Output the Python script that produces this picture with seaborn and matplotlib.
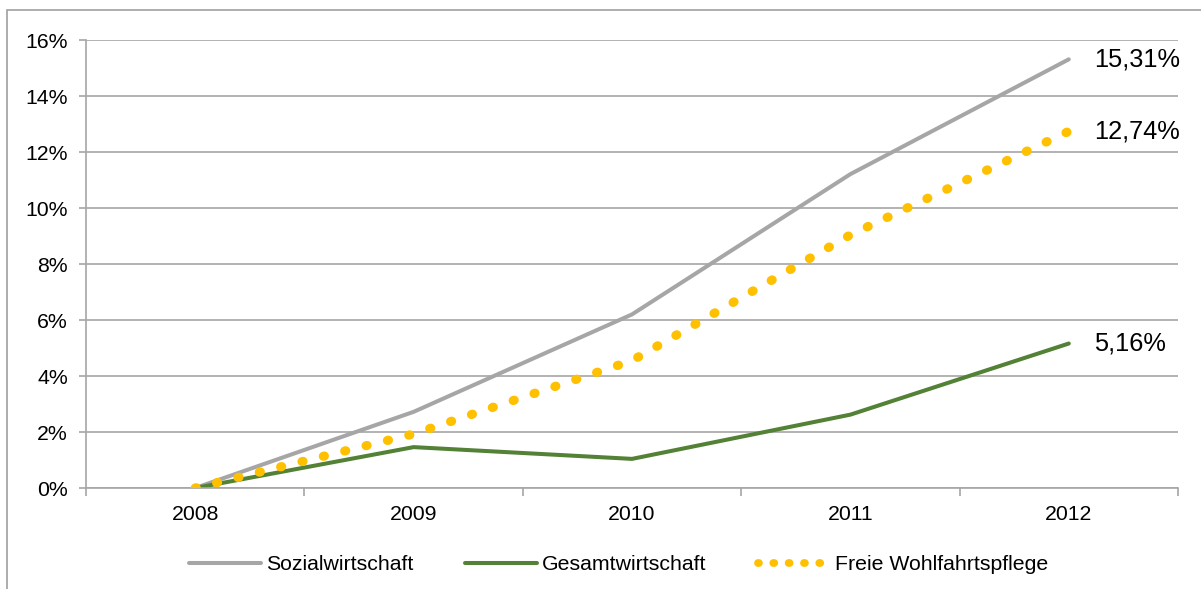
import matplotlib
matplotlib.use("Agg")
import matplotlib.pyplot as plt
import seaborn as sns
import pandas as pd
from matplotlib.lines import Line2D
from matplotlib.patches import Rectangle
from matplotlib.ticker import FuncFormatter, FixedLocator

years = ["2008", "2009", "2010", "2011", "2012"]
sozial = [0.0, 2.72, 6.20, 11.21, 15.31]
gesamt = [0.0, 1.46, 1.04, 2.62, 5.16]
freie = [0.0, 1.93, 4.55, 9.04, 12.74]
series_names = ["Sozialwirtschaft", "Gesamtwirtschaft", "Freie Wohlfahrtspflege"]
end_labels = ["15,31%", "5,16%", "12,74%"]
yticks = [0, 2, 4, 6, 8, 10, 12, 14, 16]

sns.set_theme(style="white")
plt.rcParams["font.family"] = ["Liberation Sans", "DejaVu Sans"]
plt.rcParams["text.color"] = "black"

GRID = "#A6A6A6"
colors = {"Sozialwirtschaft": "#A6A6A6", "Gesamtwirtschaft": "#538135",
          "Freie Wohlfahrtspflege": "#FFC000"}

df = pd.DataFrame({
    "pos": list(range(len(years))) * 3,
    "value": sozial + gesamt + freie,
    "series": sum([[n] * len(years) for n in series_names], []),
})

fig = plt.figure(figsize=(12.01, 5.89), dpi=100)
ax = fig.add_axes([86 / 1201, 1 - 488 / 589, (1178 - 86) / 1201, (488 - 40) / 589])

for name in series_names:
    sub = df[df["series"] == name]
    if name == "Freie Wohlfahrtspflege":
        sns.lineplot(data=sub, x="pos", y="value", ax=ax, color=colors[name],
                     linewidth=6.6, legend=False, zorder=3,
                     linestyle=(0, (0.12, 2.28)), dash_capstyle="round")
    else:
        sns.lineplot(data=sub, x="pos", y="value", ax=ax, color=colors[name],
                     linewidth=2.9, legend=False, zorder=2, solid_capstyle="round")

ax.set_xlim(-0.5, len(years) - 0.5)
ax.set_ylim(0, 16)
ax.yaxis.set_major_locator(FixedLocator(yticks))
ax.yaxis.set_major_formatter(FuncFormatter(lambda v, p: f"{int(v)}%"))
ax.set_xticks(range(len(years)))
ax.set_xticklabels(years)
ax.set_xticks([i - 0.5 for i in range(len(years) + 1)], minor=True)
ax.set_xlabel("")
ax.set_ylabel("")

ax.grid(axis="y", color=GRID, lw=1.2)
ax.set_axisbelow(True)
for s in ["top", "right"]:
    ax.spines[s].set_visible(False)
for s in ["left", "bottom"]:
    ax.spines[s].set_visible(True)
    ax.spines[s].set_color(GRID)
    ax.spines[s].set_linewidth(1.2)

ax.tick_params(axis="y", which="major", left=True, length=5, width=1.2, color=GRID,
               labelsize=15.3, pad=8, labelcolor="black")
ax.tick_params(axis="x", which="major", bottom=False, length=0, labelsize=15.3, pad=12,
               labelcolor="black")
ax.tick_params(axis="x", which="minor", bottom=True, length=6, width=1.2, color=GRID)

# end labels
vals_last = [sozial[-1], gesamt[-1], freie[-1]]
for lbl, v in zip(end_labels, vals_last):
    ax.annotate(lbl, xy=(len(years) - 1, v), xytext=(18, 0), textcoords="offset points",
                ha="left", va="center", fontsize=18.3, color="black")

handles = [
    Line2D([], [], color=colors["Sozialwirtschaft"], lw=2.9),
    Line2D([], [], color=colors["Gesamtwirtschaft"], lw=2.9),
    Line2D([], [], color=colors["Freie Wohlfahrtspflege"], lw=5.6,
           linestyle=(0, (0.12, 1.85)), dash_capstyle="round"),
]
leg = fig.legend(handles, series_names, loc="center", bbox_to_anchor=(0.515, 1 - 565 / 589),
                 ncol=3, frameon=False, fontsize=15.3, handlelength=3.4,
                 handletextpad=0.25, columnspacing=2.4)
for t in leg.get_texts():
    t.set_color("black")

fig.patches.append(Rectangle((7 / 1201, -0.2), 2, (589 - 10) / 589 + 0.2,
                             transform=fig.transFigure, fill=False,
                             edgecolor="#A0A0A0", lw=1.2))

fig.savefig("out.png", dpi=100, facecolor="white")
